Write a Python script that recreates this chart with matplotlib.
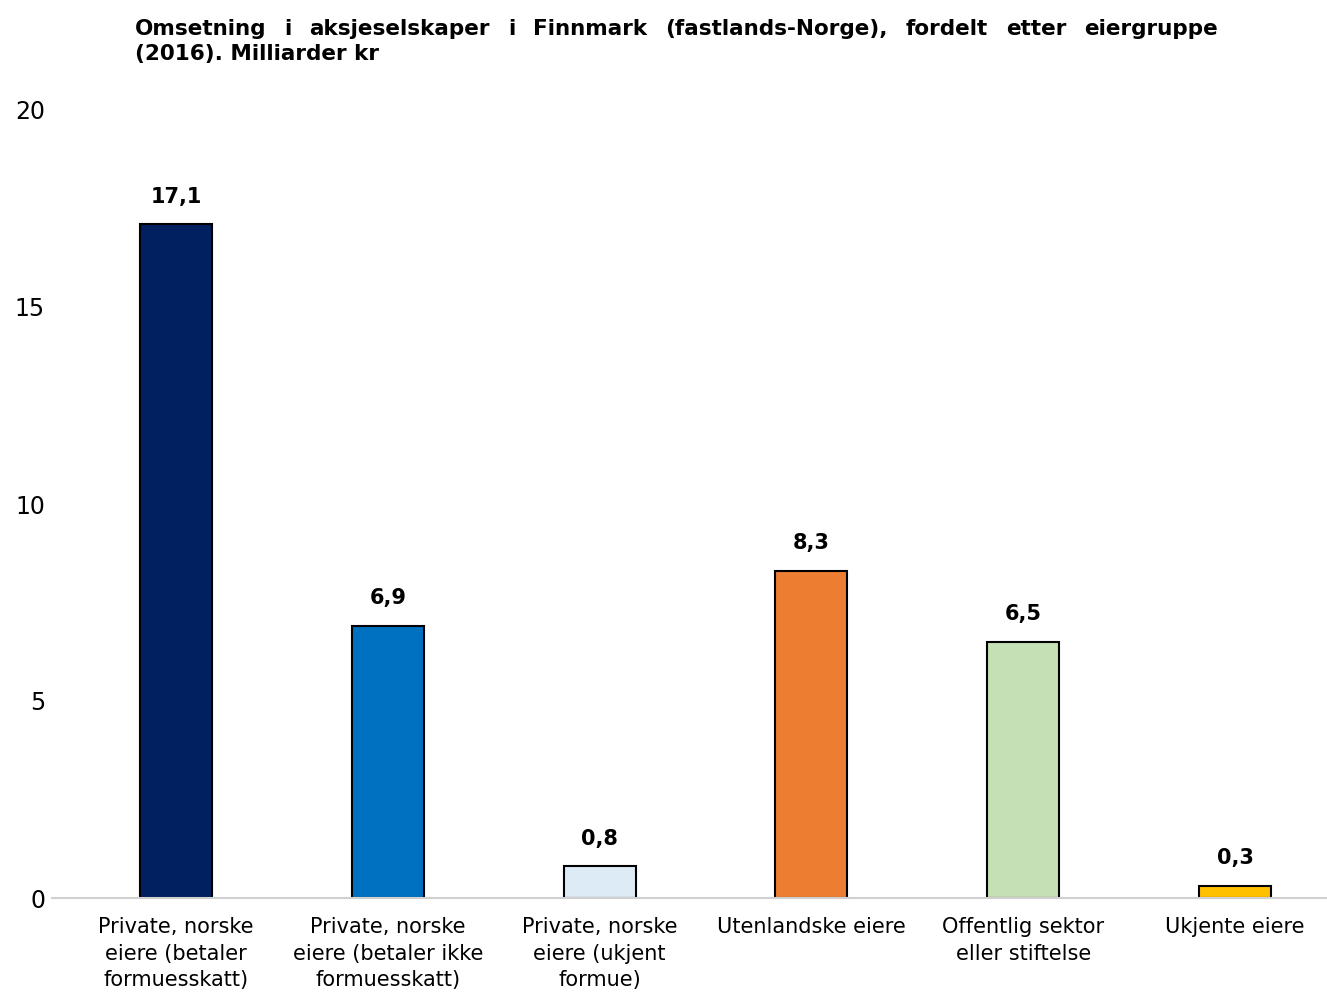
import matplotlib.pyplot as plt

# data
categories = ["Private, norske\neiere (betaler\nformuesskatt)",
              "Private, norske\neiere (betaler ikke\nformuesskatt)",
              "Private, norske\neiere (ukjent\nformue)",
              "Utenlandske eiere",
              "Offentlig sektor\neller stiftelse",
              "Ukjente eiere"]
values = [17.1, 6.9, 0.8, 8.3, 6.5, 0.3]
colors = ["#002060", "#0070C0", "#DDEBF7", "#ED7D31", "#C5E0B4", "#FFC000"]
yticks = [0, 5, 10, 15, 20]
title_line1 = "Omsetning i aksjeselskaper i Finnmark (fastlands-Norge), fordelt etter eiergruppe"
title_line2 = "(2016). Milliarder kr"

plt.rcParams['font.family'] = ['DejaVu Sans']

fig = plt.figure(figsize=(13.27, 10.01), dpi=100)
W, H = 1327, 1001
ax = fig.add_axes([52 / W, 1 - 898 / H, (1327 - 52) / W, (898 - 110) / H])

x = list(range(len(values)))
ax.bar(x, values, width=0.34, color=colors, edgecolor="black", linewidth=1.5, zorder=3)
for xi, v in zip(x, values):
    ax.text(xi, v + 0.45, f"{v:.1f}".replace(".", ","), ha="center", va="bottom",
            fontsize=15, fontweight="bold")

ax.set_xlim((52 - 176) / 211.8, (1327 - 176) / 211.8)
ax.set_ylim(0, 20)
ax.set_yticks(yticks)
ax.set_yticklabels([str(t) for t in yticks], fontsize=17)
ax.set_xticks(x)
ax.set_xticklabels(categories, fontsize=15, linespacing=1.4)
ax.tick_params(axis="both", length=0)
ax.tick_params(axis="y", pad=5)
ax.tick_params(axis="x", pad=14)
for s in ["top", "right", "left"]:
    ax.spines[s].set_visible(False)
ax.spines["bottom"].set_color("#D0D0D0")
ax.spines["bottom"].set_linewidth(1.5)
ax.spines["bottom"].set_zorder(4)

# justified title, first line spread from x=135 to x=1218
left, right = 135, 1218
y1, y2 = 1 - 35 / H, 1 - 60 / H
fs = 15.5
renderer = fig.canvas.get_renderer()
words = title_line1.split(" ")
texts = [fig.text(0, y1, w, ha="left", va="baseline", fontsize=fs, fontweight="bold") for w in words]
widths = [t.get_window_extent(renderer).width for t in texts]
gap = (right - left - sum(widths)) / (len(words) - 1)
pos = left
for t, w in zip(texts, widths):
    t.set_x(pos / W)
    pos += w + gap
fig.text(left / W, y2, title_line2, ha="left", va="baseline", fontsize=fs, fontweight="bold")

fig.savefig("out.png", dpi=100)
